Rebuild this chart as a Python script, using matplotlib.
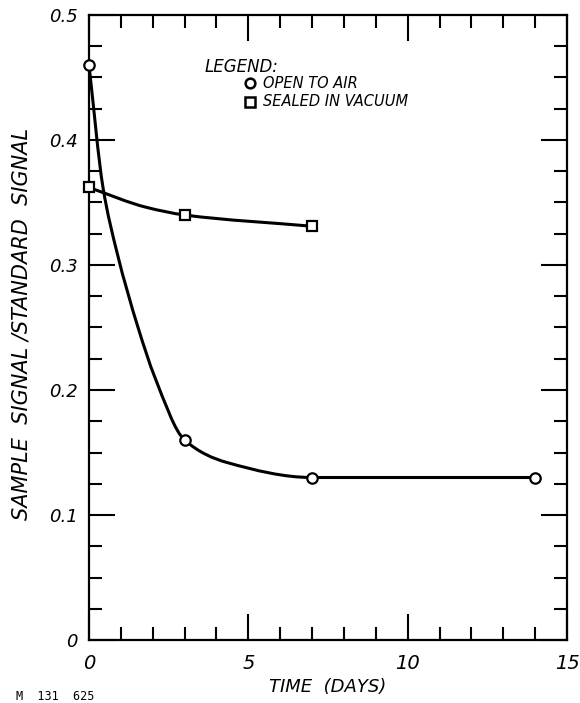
import matplotlib
matplotlib.use("Agg")
import matplotlib.pyplot as plt
import numpy as np
from matplotlib.path import Path
from matplotlib.patches import PathPatch
from matplotlib.ticker import MultipleLocator

# measured points (time in days, sample/standard signal ratio)
air_days = [0, 3, 7, 14]
air_ratio = [0.46, 0.16, 0.13, 0.13]
vac_days = [0, 3, 7]
vac_ratio = [0.362, 0.34, 0.331]

# hand drawn smooth curves
air_curve_x = [0, 0.44, 0.88, 1.54, 2.07, 3, 4.33, 7, 14]
air_curve_y = [0.46, 0.362, 0.31, 0.25, 0.21, 0.16, 0.142, 0.13, 0.13]
vac_curve_x = [0, 1.82, 3, 7]
vac_curve_y = [0.362, 0.346, 0.34, 0.331]

x_ticks = [0, 5, 10, 15]
y_ticks = [0, 0.1, 0.2, 0.3, 0.4, 0.5]
y_ticklabels = ["0", "0.1", "0.2", "0.3", "0.4", "0.5"]


def smooth_path(xs, ys):
    # monotone cubic (fritsch-carlson) through the traced points, as bezier segments
    x = np.asarray(xs, float)
    y = np.asarray(ys, float)
    h = np.diff(x)
    d = np.diff(y) / h
    m = np.zeros_like(x)
    m[0], m[-1] = d[0], d[-1]
    for i in range(1, len(x) - 1):
        if d[i - 1] * d[i] > 0:
            w1 = 2 * h[i] + h[i - 1]
            w2 = h[i] + 2 * h[i - 1]
            m[i] = (w1 + w2) / (w1 / d[i - 1] + w2 / d[i])
    verts = [(x[0], y[0])]
    codes = [Path.MOVETO]
    for i in range(len(x) - 1):
        verts += [(x[i] + h[i] / 3, y[i] + m[i] * h[i] / 3),
                  (x[i + 1] - h[i] / 3, y[i + 1] - m[i + 1] * h[i] / 3),
                  (x[i + 1], y[i + 1])]
        codes += [Path.CURVE4] * 3
    return Path(verts, codes)


fig = plt.figure(figsize=(5.8, 7.03), dpi=100)
ax = fig.add_axes([0.1534, 0.0896, 0.8242, 0.8891])

for cx, cy in [(air_curve_x, air_curve_y), (vac_curve_x, vac_curve_y)]:
    ax.add_patch(PathPatch(smooth_path(cx, cy), fill=False, lw=2.2,
                           edgecolor="black", capstyle="round", zorder=2))

ax.plot(air_days, air_ratio, "o", ms=7.5, mfc="white", mec="black", mew=1.6,
        zorder=3, clip_on=False)
ax.plot(vac_days, vac_ratio, "s", ms=7.5, mfc="white", mec="black", mew=1.6,
        zorder=3, clip_on=False)

ax.set_xlim(0, 15)
ax.set_ylim(0, 0.5)
ax.xaxis.set_minor_locator(MultipleLocator(1))
ax.yaxis.set_minor_locator(MultipleLocator(0.025))
ax.set_xticks(x_ticks)
ax.set_yticks(y_ticks)
ax.set_yticklabels(y_ticklabels)

ax.tick_params(which="both", direction="in", top=True, right=True, width=1.5, color="black")
ax.tick_params(which="major", length=19)
ax.tick_params(which="minor", length=9.5)
ax.tick_params(axis="y", which="major", pad=8, labelsize=13)
ax.tick_params(axis="x", which="major", pad=10, labelsize=14)
for lab in ax.get_xticklabels() + ax.get_yticklabels():
    lab.set_fontstyle("italic")
for s in ax.spines.values():
    s.set_linewidth(1.6)

ax.set_xlabel("TIME  (DAYS)", fontsize=13, style="italic", labelpad=4)
fig.text(22 / 580, 1 - 324 / 703, "SAMPLE  SIGNAL /STANDARD  SIGNAL", rotation=90,
         fontsize=15, style="italic", ha="center", va="center")

# legend lettered onto the plot like the original
fig.text(205 / 580, 1 - 67 / 703, "LEGEND:", fontsize=12, style="italic", va="center")
lx = (250 - 89) / (567 - 89) * 15
ax.plot([lx], [(640 - 83) / 1250], "o", ms=7, mfc="white", mec="black", mew=1.8)
ax.plot([lx], [(640 - 102) / 1250], "s", ms=7, mfc="white", mec="black", mew=1.8)
fig.text(263 / 580, 1 - 83 / 703, "OPEN TO AIR", fontsize=10.5, style="italic", va="center")
fig.text(263 / 580, 1 - 102 / 703, "SEALED IN VACUUM", fontsize=10.5, style="italic",
         va="center")

fig.text(16 / 580, 1 - 697 / 703, "M  131  625", fontsize=8.5, family="DejaVu Sans Mono",
         va="center")

fig.savefig("out.png", dpi=100)
